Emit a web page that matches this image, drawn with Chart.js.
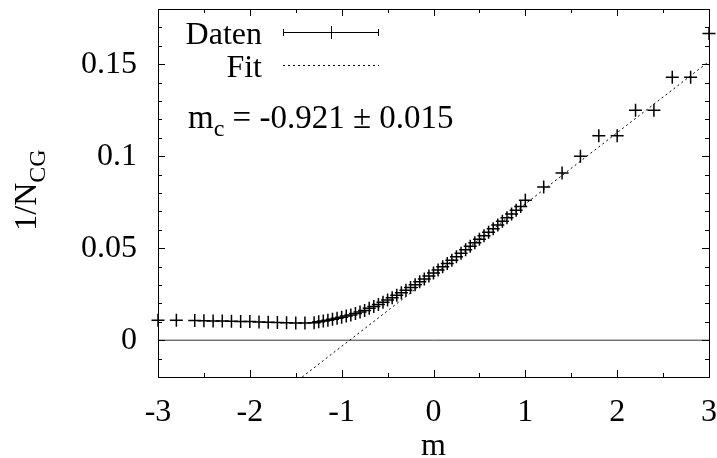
<!DOCTYPE html>
<html>
<head>
<meta charset="utf-8">
<script src="https://cdn.jsdelivr.net/npm/chart.js@4.4.1/dist/chart.umd.min.js"></script>
<style>
html, body { margin: 0; padding: 0; background: #fff; }
</style>
</head>
<body>
<canvas id="chart" width="717" height="458"></canvas>
<script>
// Messpunkte: m und 1/N_CG
const mWerte = [
  -3.0, -2.8, -2.6, -2.5, -2.4, -2.3, -2.2, -2.1, -2.0, -1.9, -1.8, -1.7, -1.6, -1.5, -1.4, -1.3,
  -1.25, -1.2, -1.15, -1.1, -1.05, -1.0, -0.95, -0.9, -0.85, -0.8, -0.75, -0.7, -0.65, -0.6, -0.55,
  -0.5, -0.45, -0.4, -0.35, -0.3, -0.25, -0.2, -0.15, -0.1, -0.05, 0.0, 0.05, 0.1, 0.15, 0.2, 0.25,
  0.3, 0.35, 0.4, 0.45, 0.5, 0.55, 0.6, 0.65, 0.7, 0.75, 0.8, 0.85, 0.9, 0.95, 1.0,
  1.2, 1.4, 1.6, 1.8, 2.0, 2.2, 2.4, 2.6, 2.8, 3.0
];
const invN = [
  0.0109, 0.0108, 0.0107, 0.0106, 0.0105, 0.0104, 0.0103, 0.0102, 0.0101, 0.0099, 0.0098, 0.0096, 0.0095, 0.0094, 0.0094, 0.0095,
  0.0100, 0.0104, 0.0109, 0.0114, 0.0119, 0.0125, 0.0131, 0.0137, 0.0145, 0.0153, 0.0162, 0.0173, 0.0183, 0.0194, 0.0206,
  0.0218, 0.0231, 0.0244, 0.0258, 0.0272, 0.0287, 0.0302, 0.0317, 0.0333, 0.0349, 0.0365, 0.0382, 0.0399, 0.0417, 0.0435, 0.0453,
  0.0472, 0.0491, 0.0510, 0.0529, 0.0548, 0.0567, 0.0587, 0.0606, 0.0626, 0.0646, 0.0666, 0.0686, 0.0706, 0.0727, 0.0760,
  0.0833, 0.0909, 0.1000, 0.1111, 0.1111, 0.1250, 0.1250, 0.1429, 0.1429, 0.1667
];

// Fit-Gerade (Endpunkte) und Nulllinie
const fitM = [-1.43, 3.0];
const fitY = [-0.02, 0.1515];
const nullM = [-3, 3];
const nullY = [0, 0];

// Achsen
const xTicks = [-3, -2, -1, 0, 1, 2, 3];
const yTicks = [0, 0.05, 0.1, 0.15];
const xMin = -3, xMax = 3, yMin = -0.02, yMax = 0.18;

const SCHRIFT = 'Liberation Serif, Times New Roman, serif';
const GROSS = 32;
const KLEIN = 24;

function punkte(xs, ys) {
    return xs.map((x, i) => ({ x: x, y: ys[i] }));
}

// Rahmen, Ticks nach innen, Legende, Beschriftungen
const gnuplotDeko = {
    id: 'gnuplotDeko',
    afterDraw(chart) {
        const ctx = chart.ctx;
        const a = chart.chartArea;
        const xs = chart.scales.x;
        const ys = chart.scales.y;
        ctx.save();
        ctx.strokeStyle = '#000';
        ctx.lineWidth = 1;
        ctx.strokeRect(a.left + 0.5, a.top + 0.5, a.right - a.left, a.bottom - a.top);

        ctx.beginPath();
        for (let v = xMin; v <= xMax + 1e-9; v += 0.5) {
            const px = Math.round(xs.getPixelForValue(v)) + 0.5;
            const len = Math.abs(v - Math.round(v)) < 1e-9 ? 7 : 4;
            ctx.moveTo(px, a.bottom); ctx.lineTo(px, a.bottom - len);
            ctx.moveTo(px, a.top); ctx.lineTo(px, a.top + len);
        }
        for (let k = -2; k <= 18; k++) {
            const v = k / 100;
            const py = Math.round(ys.getPixelForValue(v)) + 0.5;
            const len = k % 5 === 0 ? 7 : 4;
            ctx.moveTo(a.left, py); ctx.lineTo(a.left + len, py);
            ctx.moveTo(a.right, py); ctx.lineTo(a.right - len, py);
        }
        ctx.stroke();

        // Legende
        ctx.fillStyle = '#000';
        ctx.font = GROSS + 'px ' + SCHRIFT;
        ctx.textAlign = 'right';
        ctx.textBaseline = 'alphabetic';
        ctx.fillText('Daten', 262, 44);
        ctx.fillText('Fit', 262, 77);
        ctx.beginPath();
        ctx.moveTo(283, 32.5); ctx.lineTo(379, 32.5);
        ctx.moveTo(283.5, 29); ctx.lineTo(283.5, 36);
        ctx.moveTo(378.5, 29); ctx.lineTo(378.5, 36);
        ctx.moveTo(331.5, 26); ctx.lineTo(331.5, 39);
        ctx.stroke();
        ctx.setLineDash([2, 3]);
        ctx.beginPath();
        ctx.moveTo(283, 65.5); ctx.lineTo(379, 65.5);
        ctx.stroke();
        ctx.setLineDash([]);

        // m_c
        ctx.textAlign = 'left';
        let x = 188;
        ctx.font = '33px ' + SCHRIFT;
        ctx.fillText('m', x, 128);
        x += ctx.measureText('m').width;
        ctx.font = KLEIN + 'px ' + SCHRIFT;
        ctx.fillText('c', x, 136);
        x += ctx.measureText('c').width;
        ctx.font = '33px ' + SCHRIFT;
        ctx.fillText(' = -0.921 \u00b1 0.015', x, 128);

        // x-Achsentitel
        ctx.font = GROSS + 'px ' + SCHRIFT;
        ctx.textAlign = 'center';
        ctx.fillText('m', (a.left + a.right) / 2, 455);

        // y-Achsentitel
        ctx.translate(36, 190);
        ctx.rotate(-Math.PI / 2);
        const haupt = '1/N';
        const sub = 'CG';
        ctx.font = KLEIN + 'px ' + SCHRIFT;
        const wSub = ctx.measureText(sub).width;
        ctx.font = GROSS + 'px ' + SCHRIFT;
        const wHaupt = ctx.measureText(haupt).width;
        const start = -(wHaupt + wSub) / 2;
        ctx.textAlign = 'left';
        ctx.fillText(haupt, start, 0);
        ctx.font = KLEIN + 'px ' + SCHRIFT;
        ctx.fillText(sub, start + wHaupt, 9);
        ctx.restore();
    }
};

new Chart(document.getElementById('chart'), {
    type: 'scatter',
    data: {
        datasets: [{
            label: 'Daten',
            data: punkte(mWerte, invN),
            pointStyle: 'cross',
            pointRadius: 6.5,
            pointBorderWidth: 1.5,
            borderColor: '#000',
            backgroundColor: '#000',
            showLine: false,
            clip: false
        }, {
            label: 'Fit',
            data: punkte(fitM, fitY),
            showLine: true,
            pointRadius: 0,
            borderColor: '#000',
            borderWidth: 1,
            borderDash: [2, 3]
        }, {
            label: 'Null',
            data: punkte(nullM, nullY),
            showLine: true,
            pointRadius: 0,
            borderColor: '#333',
            borderWidth: 1
        }]
    },
    options: {
        responsive: false,
        animation: false,
        layout: { padding: { top: 9, right: 7, left: 0, bottom: 0 } },
        plugins: {
            legend: { display: false },
            tooltip: { enabled: false }
        },
        scales: {
            x: {
                type: 'linear',
                min: xMin,
                max: xMax,
                grid: { display: false, drawTicks: false },
                border: { display: false },
                ticks: {
                    color: '#000',
                    padding: 16,
                    font: { family: SCHRIFT, size: GROSS },
                    maxRotation: 0
                },
                afterBuildTicks: s => { s.ticks = xTicks.map(v => ({ value: v })); },
                afterFit: s => {
                    s.height = 81;
                    s.paddingLeft = 0; s.paddingRight = 0;
                    s.paddingTop = 0; s.paddingBottom = 0;
                }
            },
            y: {
                type: 'linear',
                min: yMin,
                max: yMax,
                grid: { display: false, drawTicks: false },
                border: { display: false },
                ticks: {
                    color: '#000',
                    padding: 21,
                    font: { family: SCHRIFT, size: GROSS },
                    callback: v => String(v)
                },
                afterBuildTicks: s => { s.ticks = yTicks.map(v => ({ value: v })); },
                afterFit: s => {
                    s.width = 158;
                    s.paddingLeft = 0; s.paddingRight = 0;
                    s.paddingTop = 0; s.paddingBottom = 0;
                }
            }
        }
    },
    plugins: [gnuplotDeko]
});
</script>
</body>
</html>
